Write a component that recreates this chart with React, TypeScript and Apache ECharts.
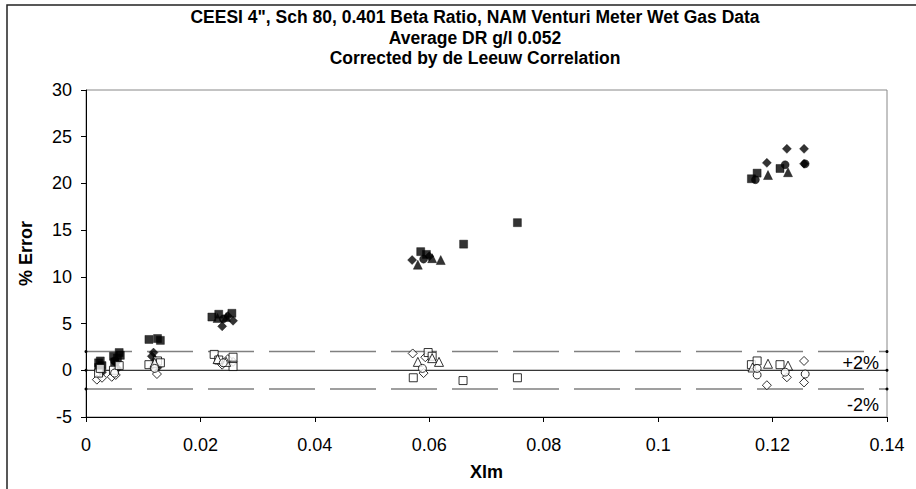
import React, { useEffect, useRef } from "react";
import * as echarts from "echarts";

const titleLines = [
  "CEESI 4\", Sch 80, 0.401 Beta Ratio, NAM Venturi Meter Wet Gas Data",
  "Average DR g/l 0.052",
  "Corrected by de Leeuw Correlation",
];
const xName = "Xlm";
const yName = "% Error";
const xTicks = { min: 0, max: 0.14, interval: 0.02 };
const yTicks = { min: -5, max: 30, interval: 5 };
const limitLines = [2, 0, -2];
const limitLabels = ["+2%", "-2%"];

// Uncorrected (filled) and de Leeuw corrected (open) errors
const uncorrDiamond: number[][] = [
  [0.0025, 0.3], [0.0028, -0.2], [0.0052, 0.8], [0.0055, 0.2], [0.0118, 1.9], [0.0122, 0.8],
  [0.0115, 1.5], [0.0125, 0.3],
  [0.0238, 4.7], [0.0257, 5.3], [0.0248, 5.8], [0.057, 11.8], [0.06, 12.2],
  [0.119, 22.2], [0.1225, 23.7], [0.1255, 23.7], [0.1255, 22.1],
];
const corrDiamond: number[][] = [
  [0.0019, -1.0], [0.0028, -0.8], [0.0045, -0.7], [0.0052, -0.5], [0.0124, -0.4], [0.0118, 0.3],
  [0.0238, 0.6], [0.0257, 0.9], [0.0248, 1.2], [0.0571, 1.8], [0.0593, 1.4], [0.059, -0.3],
  [0.119, -1.6], [0.1225, -0.75], [0.1255, 1.0], [0.1255, -1.3],
];
const uncorrSquare: number[][] = [
  [0.0022, 0.8], [0.0025, 1.0], [0.0022, 0.3], [0.0028, 0.5], [0.0048, 1.5], [0.005, 0.9],
  [0.0055, 1.3], [0.006, 1.6], [0.0058, 1.9], [0.011, 3.3], [0.0125, 3.4], [0.013, 3.2],
  [0.022, 5.7], [0.0232, 6.0], [0.0255, 6.1], [0.0585, 12.7], [0.0595, 12.4], [0.066, 13.5],
  [0.0754, 15.8], [0.1163, 20.5], [0.1173, 21.1], [0.1213, 21.6],
];
const corrSquare: number[][] = [
  [0.0022, -0.3], [0.0025, 0.2], [0.0048, 0.0], [0.0058, 0.5], [0.011, 0.6], [0.0125, 1.0], [0.013, 0.8],
  [0.0224, 1.7], [0.0232, 1.1], [0.0257, 1.4], [0.0257, 0.4], [0.0572, -0.8], [0.0598, 1.9],
  [0.0605, 1.5], [0.0659, -1.1], [0.0754, -0.8], [0.1163, 0.6], [0.1173, 1.0], [0.1213, 0.6],
];
const uncorrTriangle: number[][] = [
  [0.012, 1.2], [0.023, 5.6], [0.0245, 5.7], [0.058, 11.3], [0.0605, 12.0], [0.062, 11.8],
  [0.1192, 20.9], [0.1227, 21.2],
];
const corrTriangle: number[][] = [
  [0.012, 0.8], [0.023, 1.2], [0.0245, 0.9], [0.058, 0.9], [0.0605, 1.3], [0.0617, 0.9],
  [0.1165, 0.3], [0.1192, 0.7], [0.1227, 0.5],
];
const uncorrCircle: number[][] = [
  [0.005, 1.0], [0.012, 0.5], [0.024, 5.5], [0.059, 11.9], [0.117, 20.4], [0.1222, 22.0], [0.1257, 22.1],
];
const corrCircle: number[][] = [
  [0.005, -0.3], [0.012, 0.2], [0.024, 0.8], [0.0588, 0.2], [0.1173, -0.5], [0.1173, 0.2],
  [0.1222, -0.2], [0.1257, -0.4],
];

const FONT = "'Liberation Sans', Arial, sans-serif";

export default function App() {
  const ref = useRef<HTMLDivElement>(null);
  useEffect(() => {
    document.body.style.margin = "0";
    const chart = echarts.init(ref.current!, null, { renderer: "svg" });
    const filled = (name: string, symbol: string, size: number, data: number[][]) => ({
      type: "scatter", name, symbol, symbolSize: size, data, z: 5,
      itemStyle: { color: "#000", borderColor: "#000", borderWidth: 0.5 },
    });
    const open = (name: string, symbol: string, size: number, data: number[][]) => ({
      type: "scatter", name, symbol, symbolSize: size, data, z: 5,
      itemStyle: { color: "#fff", borderColor: "#000", borderWidth: 1 },
    });
    const refLine = (v: number) => ({
      type: "line",
      data: [[xTicks.min, v], [xTicks.max, v]],
      symbol: "circle", symbolSize: 3, showSymbol: true,
      itemStyle: { color: "#000" },
      lineStyle: v === 0
        ? { color: "#000", width: 1, type: "solid" }
        : { color: "#808080", width: 1.5, type: [46, 15] },
      z: 3, silent: true,
    });
    chart.setOption({
      animation: false,
      textStyle: { fontFamily: FONT },
      title: {
        text: titleLines.join("\n"),
        left: 470, top: 2, textAlign: "center",
        textStyle: { fontFamily: FONT, fontSize: 17.5, fontWeight: "bold", color: "#000", lineHeight: 20.5 },
      },
      grid: { left: 86, top: 90, width: 801, height: 327, show: true, borderColor: "#888", borderWidth: 1 },
      xAxis: {
        type: "value", min: xTicks.min, max: xTicks.max, interval: xTicks.interval,
        name: xName, nameLocation: "middle", nameGap: 46,
        nameTextStyle: { fontFamily: FONT, fontSize: 18, fontWeight: "bold", color: "#000" },
        axisLine: { onZero: false, lineStyle: { color: "#000", width: 1 } },
        axisTick: { show: true, length: 5, lineStyle: { color: "#000" } },
        axisLabel: { color: "#000", fontSize: 18, fontFamily: FONT, margin: 19, formatter: (v: number) => String(+v.toFixed(2)) },
        splitLine: { show: false },
      },
      yAxis: {
        type: "value", min: yTicks.min, max: yTicks.max, interval: yTicks.interval,
        name: yName, nameLocation: "middle", nameGap: 51, nameRotate: 90,
        nameTextStyle: { fontFamily: FONT, fontSize: 18, fontWeight: "bold", color: "#000" },
        axisLine: { show: true, onZero: false, lineStyle: { color: "#000", width: 1 } },
        axisTick: { show: true, length: 5, lineStyle: { color: "#000" } },
        axisLabel: { color: "#000", fontSize: 18, fontFamily: FONT, margin: 14 },
        splitLine: { show: false },
      },
      graphic: [
        { type: "rect", shape: { x: 7, y: 5, width: 1000, height: 1000 }, style: { fill: "none", stroke: "#222", lineWidth: 1.5 }, silent: true },
        { type: "text", x: 879, y: 363, style: { text: limitLabels[0], align: "right", verticalAlign: "middle", fontFamily: FONT, fontSize: 18, fill: "#000" } },
        { type: "text", x: 879, y: 405, style: { text: limitLabels[1], align: "right", verticalAlign: "middle", fontFamily: FONT, fontSize: 18, fill: "#000" } },
      ],
      series: [
        ...limitLines.map(refLine),
        filled("Uncorrected D", "diamond", 9, uncorrDiamond),
        filled("Uncorrected S", "rect", 8, uncorrSquare),
        filled("Uncorrected T", "triangle", 9, uncorrTriangle),
        filled("Uncorrected C", "circle", 8, uncorrCircle),
        open("Corrected D", "diamond", 9, corrDiamond),
        open("Corrected S", "rect", 8, corrSquare),
        open("Corrected T", "triangle", 9, corrTriangle),
        open("Corrected C", "circle", 8, corrCircle),
      ],
    });
    return () => chart.dispose();
  }, []);
  return <div ref={ref} style={{ width: 916, height: 489 }} />;
}
